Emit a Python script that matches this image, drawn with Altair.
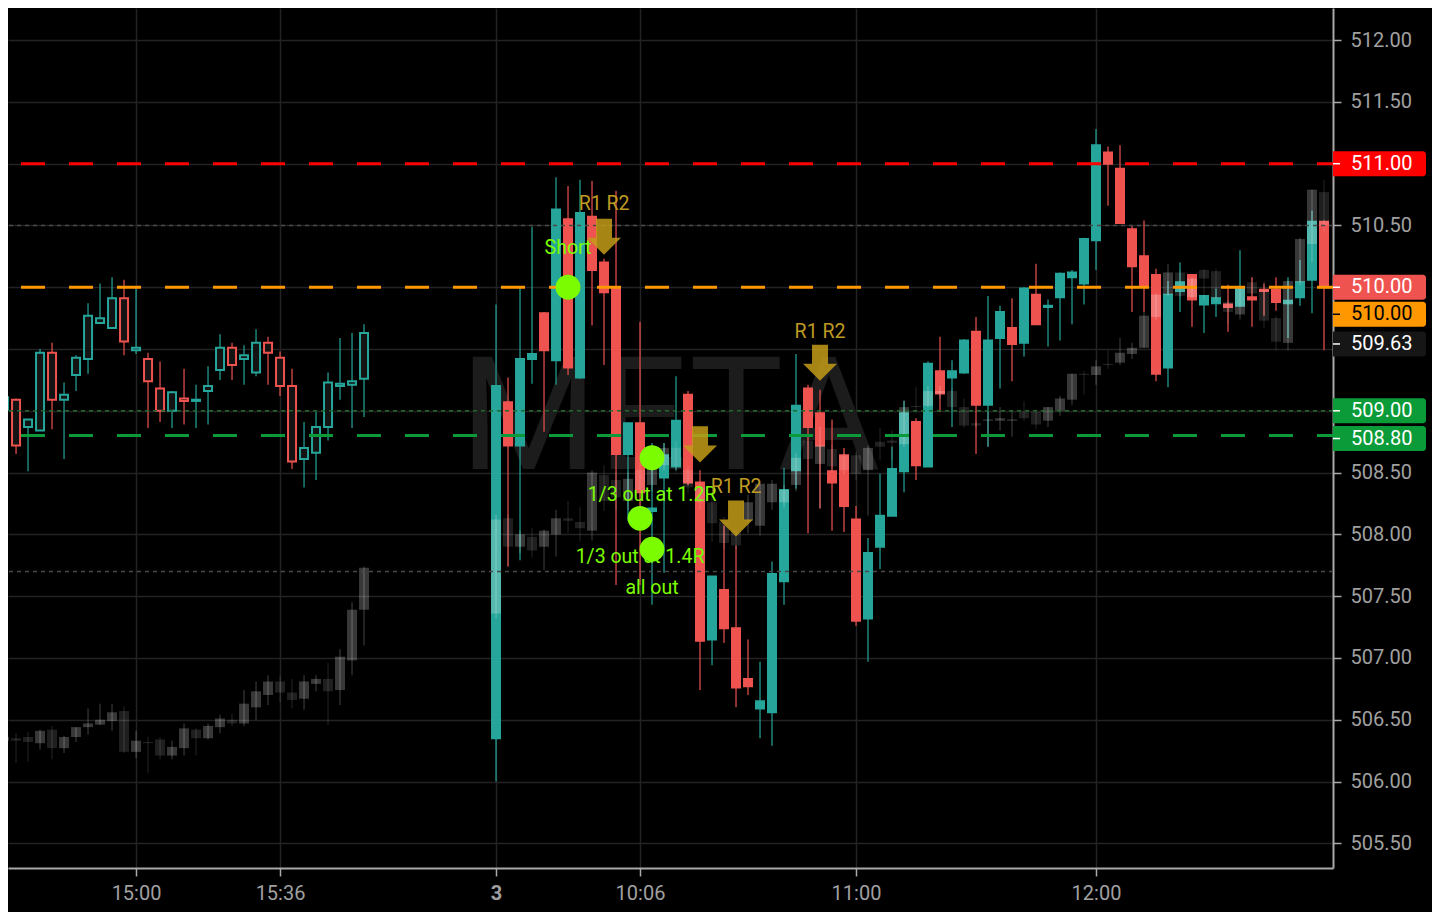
import altair as alt
import pandas as pd

# ---------------- data ----------------
DAY1_START = "14:27"
DAY2_START = "09:30"
BAR_MINUTES = 3
GAP_BARS = 10

# META, previous session (hollow candles)
m1_open = [509.01, 509.09, 508.87, 508.84, 509.47, 509.09, 509.29, 509.42, 509.71, 509.67, 509.91, 509.49, 509.42, 509.18, 509.00, 509.10, 509.08, 509.16, 509.33, 509.51, 509.42, 509.31, 509.55, 509.43, 509.20, 508.61, 508.66, 508.87, 509.20, 509.21, 509.26]
m1_high = [509.26, 509.10, 508.93, 509.50, 509.55, 509.23, 509.45, 509.87, 510.03, 510.08, 510.06, 510.00, 509.47, 509.40, 509.16, 509.34, 509.21, 509.36, 509.62, 509.55, 509.53, 509.66, 509.60, 509.48, 509.34, 508.91, 508.99, 509.31, 509.59, 509.63, 509.70]
m1_low = [508.85, 508.65, 508.51, 508.84, 508.85, 508.61, 509.16, 509.30, 509.71, 509.67, 509.45, 509.46, 508.86, 508.91, 508.86, 508.89, 508.86, 508.89, 509.25, 509.25, 509.21, 509.28, 509.21, 509.12, 508.53, 508.38, 508.44, 508.76, 509.09, 508.86, 508.95]
m1_close = [509.11, 508.72, 508.93, 509.47, 509.09, 509.13, 509.43, 509.77, 509.75, 509.91, 509.56, 509.51, 509.24, 509.00, 509.15, 509.08, 509.09, 509.20, 509.51, 509.37, 509.45, 509.55, 509.47, 509.20, 508.59, 508.70, 508.87, 509.23, 509.22, 509.24, 509.63]

# META, day "3"
m2_open = [506.35, 509.07, 508.72, 509.42, 509.79, 509.41, 510.55, 509.27, 510.57, 510.20,
           510.00, 508.65, 508.90, 508.19, 508.46, 508.55, 509.13, 508.42, 507.15, 507.55,
           507.24, 506.83, 506.59, 506.56, 507.62, 508.52, 509.18, 508.98, 508.51, 508.64,
           508.12, 507.32, 507.90, 508.15, 508.51, 508.91, 508.55, 509.32, 509.27, 509.31,
           509.64, 509.05, 509.59, 509.67, 509.55, 509.94, 509.84, 509.92, 510.08, 510.03,
           510.38, 511.09, 510.96, 510.47, 510.25, 510.10, 509.35, 509.97, 510.10, 509.86,
           509.87, 509.86, 509.85, 509.92, 509.98, 509.98, 509.87, 509.92, 510.06, 510.53]
m2_high = [509.86, 509.27, 510.00, 510.49, 509.80, 510.89, 510.82, 510.87, 510.86, 510.23,
           510.78, 508.90, 509.72, 508.74, 508.74, 509.28, 509.16, 508.52, 507.66, 508.07,
           507.91, 507.15, 506.97, 507.78, 508.54, 509.46, 509.21, 509.17, 508.93, 508.70,
           508.23, 507.97, 508.49, 508.71, 509.08, 508.94, 509.40, 509.60, 509.41, 509.58,
           509.76, 509.93, 509.85, 509.91, 510.00, 510.19, 509.90, 510.12, 510.14, 510.40,
           511.28, 511.14, 511.15, 510.50, 510.54, 510.15, 510.05, 510.20, 510.10, 509.93,
           509.99, 510.02, 510.30, 510.08, 510.03, 510.08, 510.08, 510.22, 510.62, 510.54]
m2_low = [506.00, 507.74, 507.79, 509.22, 508.83, 509.21, 509.29, 509.26, 509.69, 509.37,
          507.59, 508.11, 507.59, 507.43, 507.69, 508.52, 508.40, 506.74, 506.94, 507.12,
          506.60, 506.70, 506.35, 506.29, 507.43, 508.37, 508.01, 508.21, 508.03, 508.02,
          507.26, 506.97, 507.72, 508.15, 508.34, 508.44, 508.55, 508.99, 508.87, 509.30,
          508.65, 508.71, 509.18, 509.24, 509.44, 509.70, 509.52, 509.57, 509.70, 509.86,
          510.14, 510.66, 510.52, 509.80, 509.80, 509.24, 509.19, 509.80, 509.68, 509.63,
          509.76, 509.64, 509.85, 509.68, 509.77, 509.81, 509.59, 509.85, 509.79, 509.49]
m2_close = [509.20, 508.72, 509.42, 509.46, 509.49, 510.63, 509.35, 510.60, 510.14, 509.96,
            508.65, 508.90, 508.34, 508.21, 508.64, 508.92, 508.42, 507.14, 507.66, 507.24,
            506.76, 506.77, 506.65, 507.68, 508.36, 509.04, 508.87, 508.72, 508.42, 508.23,
            507.30, 507.85, 508.15, 508.53, 508.98, 508.56, 509.38, 509.14, 509.32, 509.57,
            509.05, 509.57, 509.80, 509.54, 509.99, 509.70, 509.85, 510.11, 510.12, 510.39,
            511.15, 511.00, 510.52, 510.17, 510.01, 509.30, 509.94, 510.04, 509.90, 509.93,
            509.91, 509.84, 509.99, 509.90, 509.97, 509.88, 509.89, 510.04, 510.53, 510.00]

# comparison symbol overlay (grey candles), previous session
g1_open = [506.33, 506.35, 506.36, 506.31, 506.42, 506.27, 506.36, 506.44, 506.46, 506.49, 506.57, 506.24, 506.32, 506.34, 506.21, 506.27, 506.42, 506.35, 506.44, 506.50, 506.47, 506.60, 506.70, 506.81, 506.72, 506.67, 506.79, 506.83, 506.74, 506.98, 507.39]
g1_high = [506.51, 506.39, 506.40, 506.42, 506.45, 506.37, 506.44, 506.59, 506.63, 506.63, 506.61, 506.41, 506.36, 506.36, 506.33, 506.47, 506.43, 506.47, 506.54, 506.55, 506.74, 506.81, 506.86, 506.86, 506.83, 506.86, 506.86, 506.96, 507.07, 507.45, 507.74]
g1_low = [506.33, 506.15, 506.16, 506.26, 506.18, 506.23, 506.32, 506.38, 506.46, 506.41, 506.23, 506.19, 506.07, 506.18, 506.18, 506.21, 506.21, 506.34, 506.39, 506.45, 506.45, 506.50, 506.62, 506.64, 506.59, 506.58, 506.73, 506.46, 506.62, 506.86, 507.10]
g1_close = [506.36, 506.33, 506.32, 506.41, 506.27, 506.36, 506.44, 506.47, 506.50, 506.56, 506.24, 506.33, 506.31, 506.21, 506.28, 506.43, 506.35, 506.45, 506.51, 506.47, 506.63, 506.73, 506.81, 506.72, 506.66, 506.81, 506.83, 506.73, 507.01, 507.39, 507.73]

# comparison symbol overlay, day "3"
g2_open = [507.36, 508.13, 507.90, 507.98, 507.90, 508.00, 508.13, 508.10, 508.03, 508.48,
           508.44, 508.27, 508.52, 508.40, 508.56, 508.70, 508.52, 508.38, 508.26, 508.10,
           508.03, 508.11, 508.07, 508.26, 508.26, 508.40, 508.76, 508.57, 508.69, 508.64,
           508.64, 508.52, 508.75, 508.76, 508.73, 509.04, 509.04, 509.14, 509.16, 509.03,
           508.90, 508.92, 508.92, 508.92, 508.99, 508.99, 508.92, 509.00, 509.09, 509.30,
           509.29, 509.38, 509.39, 509.46, 509.51, 509.76, 509.94, 510.12, 509.92, 510.14,
           510.13, 509.88, 509.78, 510.04, 509.98, 509.75, 509.55, 510.04, 510.35, 510.77]
g2_high = [508.16, 508.16, 508.03, 508.05, 508.04, 508.20, 508.27, 508.22, 508.52, 508.56,
           508.50, 508.50, 508.58, 508.62, 508.74, 508.75, 508.55, 508.42, 508.34, 508.14,
           508.06, 508.32, 508.43, 508.44, 508.40, 508.66, 508.80, 508.87, 508.72, 508.66,
           508.66, 508.72, 508.86, 508.84, 509.09, 509.19, 509.20, 509.20, 509.18, 509.10,
           508.92, 509.00, 509.03, 509.00, 509.08, 509.01, 509.03, 509.12, 509.30, 509.32,
           509.41, 509.49, 509.59, 509.55, 509.80, 509.95, 510.19, 510.14, 510.08, 510.15,
           510.15, 509.90, 510.00, 510.08, 510.05, 509.77, 510.05, 510.40, 510.79, 510.87]
g2_low = [507.32, 507.74, 507.85, 507.81, 507.71, 507.82, 508.01, 507.94, 507.95, 508.19,
          508.20, 508.20, 508.30, 508.35, 508.52, 508.50, 508.33, 508.20, 507.94, 507.88,
          507.88, 508.01, 507.99, 508.20, 508.22, 508.35, 508.48, 508.21, 508.50, 508.48,
          508.44, 508.15, 508.60, 508.60, 508.71, 508.98, 509.03, 509.10, 509.00, 508.86,
          508.86, 508.71, 508.84, 508.79, 508.92, 508.85, 508.87, 508.96, 509.05, 509.13,
          509.21, 509.34, 509.37, 509.42, 509.51, 509.74, 509.93, 509.92, 509.91, 509.90,
          509.88, 509.70, 509.74, 509.93, 509.67, 509.49, 509.49, 510.02, 510.20, 510.45]
g2_close = [508.12, 507.90, 508.00, 507.87, 508.03, 508.13, 508.11, 508.05, 508.50, 508.27,
            508.30, 508.45, 508.36, 508.56, 508.70, 508.55, 508.38, 508.26, 508.09, 507.93,
            507.91, 508.26, 508.41, 508.41, 508.36, 508.62, 508.61, 508.72, 508.55, 508.52,
            508.49, 508.70, 508.71, 508.74, 509.03, 509.03, 509.16, 509.16, 509.03, 508.88,
            508.88, 508.93, 508.94, 508.93, 508.94, 508.89, 509.03, 509.10, 509.30, 509.29,
            509.36, 509.37, 509.47, 509.51, 509.77, 509.94, 510.12, 509.93, 510.07, 510.07,
            509.91, 509.80, 509.99, 509.95, 509.73, 509.56, 510.05, 510.39, 510.79, 510.50]

# time axis ticks (session, time, label)
tick_session = [1, 1, 2, 2, 2, 2]
tick_time = ["15:00", "15:36", "09:30", "10:06", "11:00", "12:00"]
tick_label = ["15:00", "15:36", "3", "10:06", "11:00", "12:00"]
price_ticks = [505.5, 506.0, 506.5, 507.0, 507.5, 508.0, 508.5, 509.0, 509.5, 510.0, 510.5, 511.0, 511.5, 512.0]
x_range_bars = [0.33, 110.75]
price_range = [505.30, 512.26]

# horizontal levels
level_price = [511.00, 510.00, 508.80]
level_color = ["#ff0000", "#ff9800", "#0a9a3a"]
thin_price = [510.50, 507.70, 509.00]
thin_color = ["#4a4a4a", "#4a4a4a", "#1f6b2e"]

# trade annotations (session-2 time, price)
dot_time = ["09:48", "10:09", "10:06", "10:09"]
dot_price = [510.00, 508.62, 508.13, 507.88]
note_text = ["Short", "1/3 out at 1.2R", "1/3 out at 1.4R", "all out"]
note_time = ["09:48", "10:09", "10:06", "10:09"]
note_price = [510.32, 508.32, 507.82, 507.57]
rr_text_time = ["09:57", "10:51", "10:30"]
rr_text_price = [510.67, 509.64, 508.38]
arrow_time = ["09:57", "10:21", "10:30", "10:51"]
arrow_price = [510.40, 508.72, 508.12, 509.38]

# right-scale price badges: value, background, text colour, stacking shift (px)
badge_value = [511.00, 510.00, 510.00, 509.63, 509.00, 508.80]
badge_bg = ["#ff0000", "#ef5350", "#ff9800", "#161616", "#0b9b39", "#0b9b39"]
badge_fg = ["#ffffff", "#ffffff", "#000000", "#ffffff", "#ffffff", "#ffffff"]
badge_shift = [0, 0, 27, 11, 0, 3]

# ---------------- styling ----------------
TEAL = "#26a69a"
RED = "#ef5350"
HOLLOW = "#131313"
GRID = "#232323"
AXIS = "#a8a8a8"
LABEL = "#a0a0a0"
FONT = "Roboto"
LIME = "#7cfc00"
GOLD = "#bf9a22"
W, H = 1325, 860


def minutes(t):
    h, m = t.split(":")
    return int(h) * 60 + int(m)


def slot1(t):
    return (minutes(t) - minutes(DAY1_START)) / BAR_MINUTES


def slot2(t):
    return len(m1_open) + GAP_BARS + (minutes(t) - minutes(DAY2_START)) / BAR_MINUTES


rows = []
for i, (o, h, l, c) in enumerate(zip(m1_open, m1_high, m1_low, m1_close)):
    col = TEAL if c >= o else RED
    rows.append(dict(slot=i, o=o, h=h, l=l, c=c, col=col, fill=HOLLOW))
for i, (o, h, l, c) in enumerate(zip(m2_open, m2_high, m2_low, m2_close)):
    col = TEAL if c >= o else RED
    rows.append(dict(slot=len(m1_open) + GAP_BARS + i, o=o, h=h, l=l, c=c, col=col, fill=col))
meta = pd.DataFrame(rows)

grows = []
for i, (o, h, l, c) in enumerate(zip(g1_open, g1_high, g1_low, g1_close)):
    grows.append(dict(slot=i, o=o, h=h, l=l, c=c, op=0.22 if c >= o else 0.12))
for i, (o, h, l, c) in enumerate(zip(g2_open, g2_high, g2_low, g2_close)):
    grows.append(dict(slot=len(m1_open) + GAP_BARS + i, o=o, h=h, l=l, c=c, op=0.22 if c >= o else 0.12))
comp = pd.DataFrame(grows)

tick_slots = [slot1(t) if s == 1 else slot2(t) for s, t in zip(tick_session, tick_time)]
label_expr = " : ".join(f"datum.value == {s} ? '{l}'" for s, l in zip(tick_slots, tick_label)) + " : ''"
bold_slot = tick_slots[tick_label.index("3")]

xs = alt.Scale(domain=x_range_bars, nice=False, zero=False, padding=0)
ys = alt.Scale(domain=price_range, nice=False, zero=False, padding=0)
x_axis = alt.Axis(values=tick_slots, labelExpr=label_expr, grid=True, gridColor=GRID, gridWidth=1.5,
                  ticks=True, tickSize=8, tickColor=AXIS, tickWidth=1.5, domainColor=AXIS, domainWidth=2,
                  labelColor=LABEL, labelFont=FONT, labelFontSize=20, labelPadding=7, title=None,
                  labelFlush=False, labelOverlap=False,
                  labelFontWeight={"condition": {"test": f"datum.value == {bold_slot}", "value": "bold"},
                                   "value": "normal"})
y_axis = alt.Axis(orient="right", values=price_ticks, format=".2f", grid=True, gridColor=GRID, gridWidth=1.5,
                  ticks=True, tickSize=8, tickColor=AXIS, tickWidth=1.5, domainColor=AXIS, domainWidth=2,
                  labelColor=LABEL, labelFont=FONT, labelFontSize=20, labelPadding=9, title=None,
                  labelOverlap=False, labelFlush=False)


def X(field="slot"):
    return alt.X(f"{field}:Q", scale=xs, axis=x_axis)


def Y(field):
    return alt.Y(f"{field}:Q", scale=ys, axis=y_axis)


layers = []

# watermark
layers.append(alt.Chart(pd.DataFrame({"t": ["META"]})).mark_text(
    fontSize=158, font=FONT, color="#1c1c1c", align="center", baseline="alphabetic"
).encode(x=alt.value(662), y=alt.value(461), text="t:N"))

# META candles
layers.append(alt.Chart(meta).mark_rule(strokeWidth=1.2, clip=True).encode(
    x=X(), y=Y("l"), y2="h:Q", color=alt.Color("col:N", scale=None)))
layers.append(alt.Chart(meta).mark_bar(width=8, strokeWidth=2, clip=True).encode(
    x=X(), y=Y("o"), y2="c:Q", fill=alt.Fill("fill:N", scale=None), stroke=alt.Stroke("col:N", scale=None)))

# comparison overlay candles
layers.append(alt.Chart(comp).mark_rule(strokeWidth=1.2, color="#ffffff", clip=True).encode(
    x=X(), y=Y("l"), y2="h:Q", opacity=alt.Opacity("op:Q", scale=None)))
layers.append(alt.Chart(comp).mark_bar(width=10, color="#ffffff", clip=True).encode(
    x=X(), y=Y("o"), y2="c:Q", opacity=alt.Opacity("op:Q", scale=None)))

# thin dashed lines
thin = pd.DataFrame({"p": thin_price, "col": thin_color})
layers.append(alt.Chart(thin).mark_rule(strokeWidth=1.5, strokeDash=[4, 4]).encode(
    y=Y("p"), color=alt.Color("col:N", scale=None)))

# level lines
lev = pd.DataFrame({"p": level_price, "col": level_color})
layers.append(alt.Chart(lev).mark_rule(strokeWidth=3, strokeDash=[24, 24], strokeDashOffset=8).encode(
    y=Y("p"), color=alt.Color("col:N", scale=None)))

# trade notes
notes = pd.DataFrame({"slot": [slot2(t) for t in note_time], "p": note_price, "t": note_text})
layers.append(alt.Chart(notes).mark_text(fontSize=19.5, font=FONT, color=LIME, align="center", baseline="middle").encode(
    x=X(), y=Y("p"), text="t:N"))
dots = pd.DataFrame({"slot": [slot2(t) for t in dot_time], "p": dot_price})
layers.append(alt.Chart(dots).mark_circle(size=616, opacity=1, color=LIME).encode(x=X(), y=Y("p")))

# R1 R2 markers
ARROW = "M-0.47,-1.12 L0.47,-1.12 L0.47,0 L1,0 L0,1 L-1,0 L-0.47,0 Z"
arrows = pd.DataFrame({"slot": [slot2(t) for t in arrow_time], "p": arrow_price})
layers.append(alt.Chart(arrows).mark_point(shape=ARROW, size=1156, filled=True, fill="#c49c18",
                                           opacity=0.85, strokeWidth=0).encode(x=X(), y=Y("p")))
rr = pd.DataFrame({"slot": [slot2(t) for t in rr_text_time], "p": rr_text_price, "t": ["R1 R2"] * len(rr_text_time)})
layers.append(alt.Chart(rr).mark_text(fontSize=19.5, font=FONT, color=GOLD, align="center", baseline="middle").encode(
    x=X(), y=Y("p"), text="t:N"))

# price badges on the right scale
for v, bg, fg, sh in zip(badge_value, badge_bg, badge_fg, badge_shift):
    bd = pd.DataFrame({"p": [v], "t": [f"{v:.2f}"]})
    layers.append(alt.Chart(bd).mark_rect(color=bg, yOffset=-12.5 + sh, y2Offset=12.5 + sh,
                                          cornerRadiusTopRight=3, cornerRadiusBottomRight=3).encode(
        x=alt.value(W), x2=alt.value(W + 93), y=Y("p"), y2="p:Q"))
    layers.append(alt.Chart(bd).mark_rule(color=fg, strokeWidth=1.5, yOffset=sh).encode(
        x=alt.value(W), x2=alt.value(W + 7), y=Y("p")))
    layers.append(alt.Chart(bd).mark_text(color=fg, font=FONT, fontSize=20, align="left", baseline="middle",
                                          dy=sh).encode(x=alt.value(W + 18), y=Y("p"), text="t:N"))

chart = alt.layer(*layers).properties(
    width=W, height=H, background="#000000",
    autosize=alt.AutoSizeParams(type="none"),
    padding={"left": 0, "top": 0, "right": 99, "bottom": 44},
).configure_view(strokeWidth=0)

chart.save("out.html", embed_options={"renderer": "svg", "actions": False})
